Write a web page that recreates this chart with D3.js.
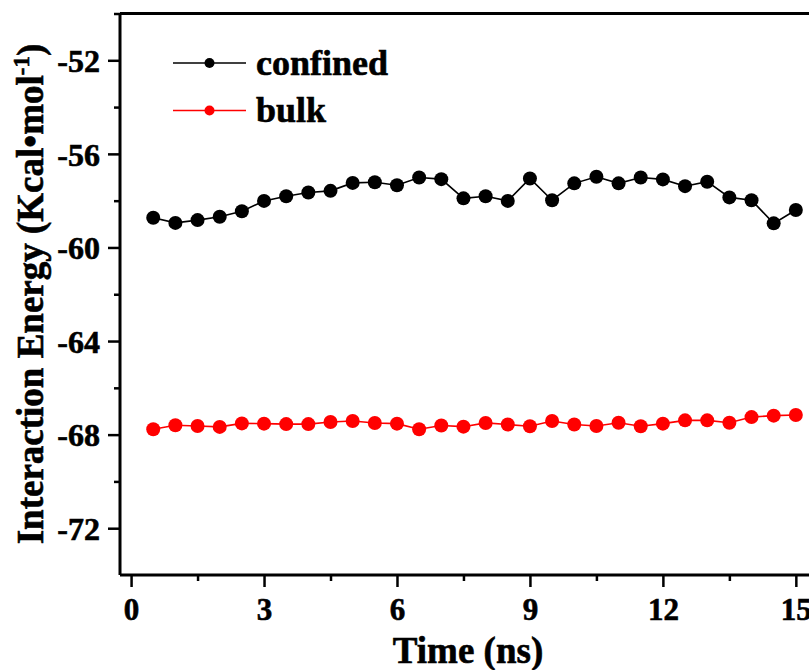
<!DOCTYPE html>
<html>
<head>
<meta charset="utf-8">
<script src="https://cdn.jsdelivr.net/npm/d3@7"></script>
<style>
  body { margin: 0; background: #fff; }
  svg { display: block; }
</style>
</head>
<body>
<script>
// time points (ns)
const time = [0.5, 1, 1.5, 2, 2.5, 3, 3.5, 4, 4.5, 5, 5.5, 6, 6.5, 7, 7.5,
              8, 8.5, 9, 9.5, 10, 10.5, 11, 11.5, 12, 12.5, 13, 13.5, 14, 14.5, 15];
const confined = [-58.73, -58.95, -58.83, -58.69, -58.45, -58.01, -57.81, -57.65, -57.58, -57.24,
                  -57.21, -57.34, -57.01, -57.08, -57.90, -57.81, -58.01, -57.05, -57.98, -57.26,
                  -56.98, -57.26, -57.01, -57.09, -57.38, -57.19, -57.86, -57.98, -58.97, -58.40];
const bulk = [-67.77, -67.60, -67.63, -67.67, -67.52, -67.53, -67.55, -67.55, -67.46, -67.42,
              -67.50, -67.53, -67.77, -67.61, -67.66, -67.50, -67.57, -67.64, -67.42, -67.57,
              -67.63, -67.49, -67.64, -67.53, -67.39, -67.39, -67.49, -67.25, -67.19, -67.16];
const xTicks = [0, 3, 6, 9, 12, 15];
const xMinor = [1.5, 4.5, 7.5, 10.5, 13.5];
const yTicks = [-52, -56, -60, -64, -68, -72];
const yMinor = [-50, -54, -58, -62, -66, -70];

const FONT = "'Liberation Serif', 'Times New Roman', Times, serif";
const width = 809, height = 670;
const svg = d3.select("body").append("svg")
  .attr("width", width).attr("height", height)
  .style("font-family", FONT);

// heavy bold text like the original figure
function boldText(sel, size) {
  sel.attr("font-size", size)
    .style("font-family", FONT).style("font-weight", "bold")
    .attr("fill", "#000").attr("stroke", "#000").attr("stroke-width", 0.6);
}

const x = d3.scaleLinear().domain([-0.25, 15.5]).range([120, 818]);
const y = d3.scaleLinear().domain([-74, -50]).range([575, 13.5]);

// frame: top border
svg.append("line")
  .attr("x1", x(-0.25)).attr("x2", width + 10)
  .attr("y1", y(-50)).attr("y2", y(-50))
  .attr("stroke", "#000").attr("stroke-width", 3);

// x axis
const xAxis = svg.append("g").attr("transform", `translate(0,${y(-74)})`)
  .call(d3.axisBottom(x).tickValues(xTicks).tickSize(12).tickFormat(d3.format("d")));
svg.append("g").attr("transform", `translate(0,${y(-74)})`)
  .call(d3.axisBottom(x).tickValues(xMinor).tickSize(6).tickFormat(""))
  .call(g => g.select(".domain").remove());

// y axis
const yAxis = svg.append("g").attr("transform", `translate(${x(-0.25)},0)`)
  .call(d3.axisLeft(y).tickValues(yTicks).tickSize(12).tickFormat(d => d));
svg.append("g").attr("transform", `translate(${x(-0.25)},0)`)
  .call(d3.axisLeft(y).tickValues(yMinor).tickSize(6).tickFormat(""))
  .call(g => g.select(".domain").remove());

svg.selectAll("g").attr("font-family", null);
svg.selectAll(".domain").attr("stroke", "#000").attr("stroke-width", 3);
svg.selectAll(".tick line").attr("stroke", "#000").attr("stroke-width", 2.5);
xAxis.select(".domain").attr("d", `M${x(-0.25)},0H${width + 10}`);
yAxis.select(".domain").attr("d", `M0,${y(-74)}V${y(-50)}`);

xAxis.selectAll(".tick text")
  .call(boldText, 31)
  .attr("y", 0).attr("dy", null)
  .attr("transform", "translate(0,45)");
yAxis.selectAll(".tick text")
  .call(boldText, 32)
  .attr("x", -20).attr("dy", "0.35em");

// axis titles
svg.append("text")
  .attr("x", 468).attr("y", 663)
  .attr("text-anchor", "middle")
  .call(boldText, 37)
  .text("Time (ns)");

const yt = svg.append("text")
  .attr("transform", "translate(43,294) rotate(-90)")
  .attr("text-anchor", "middle")
  .call(boldText, 37);
yt.append("tspan").text("Interaction Energy (Kcal\u2022mol");
yt.append("tspan").attr("font-size", 23).attr("dy", -14).text("-1");
yt.append("tspan").attr("dy", 14).text(")");

// series
const series = [
  { name: "confined", values: confined, color: "#000000" },
  { name: "bulk", values: bulk, color: "#ff0000" }
];

const line = d3.line().x(d => x(d[0])).y(d => y(d[1]));

series.forEach(s => {
  const pts = time.map((t, i) => [t, s.values[i]]);
  svg.append("path")
    .datum(pts)
    .attr("fill", "none")
    .attr("stroke", s.color)
    .attr("stroke-width", 1.6)
    .attr("d", line);
  svg.append("g").selectAll("circle")
    .data(pts).enter().append("circle")
    .attr("cx", d => x(d[0]))
    .attr("cy", d => y(d[1]))
    .attr("r", 7)
    .attr("fill", s.color);
});

// legend
const legend = svg.append("g");
series.forEach((s, i) => {
  const ly = 63 + i * 47.5;
  legend.append("line")
    .attr("x1", 173).attr("x2", 246).attr("y1", ly).attr("y2", ly)
    .attr("stroke", s.color).attr("stroke-width", 1.5);
  legend.append("circle")
    .attr("cx", 209.5).attr("cy", ly).attr("r", 5)
    .attr("fill", s.color);
  legend.append("text")
    .attr("x", 256).attr("y", ly).attr("dy", "0.33em")
    .call(boldText, 36)
    .text(s.name);
});
</script>
</body>
</html>
